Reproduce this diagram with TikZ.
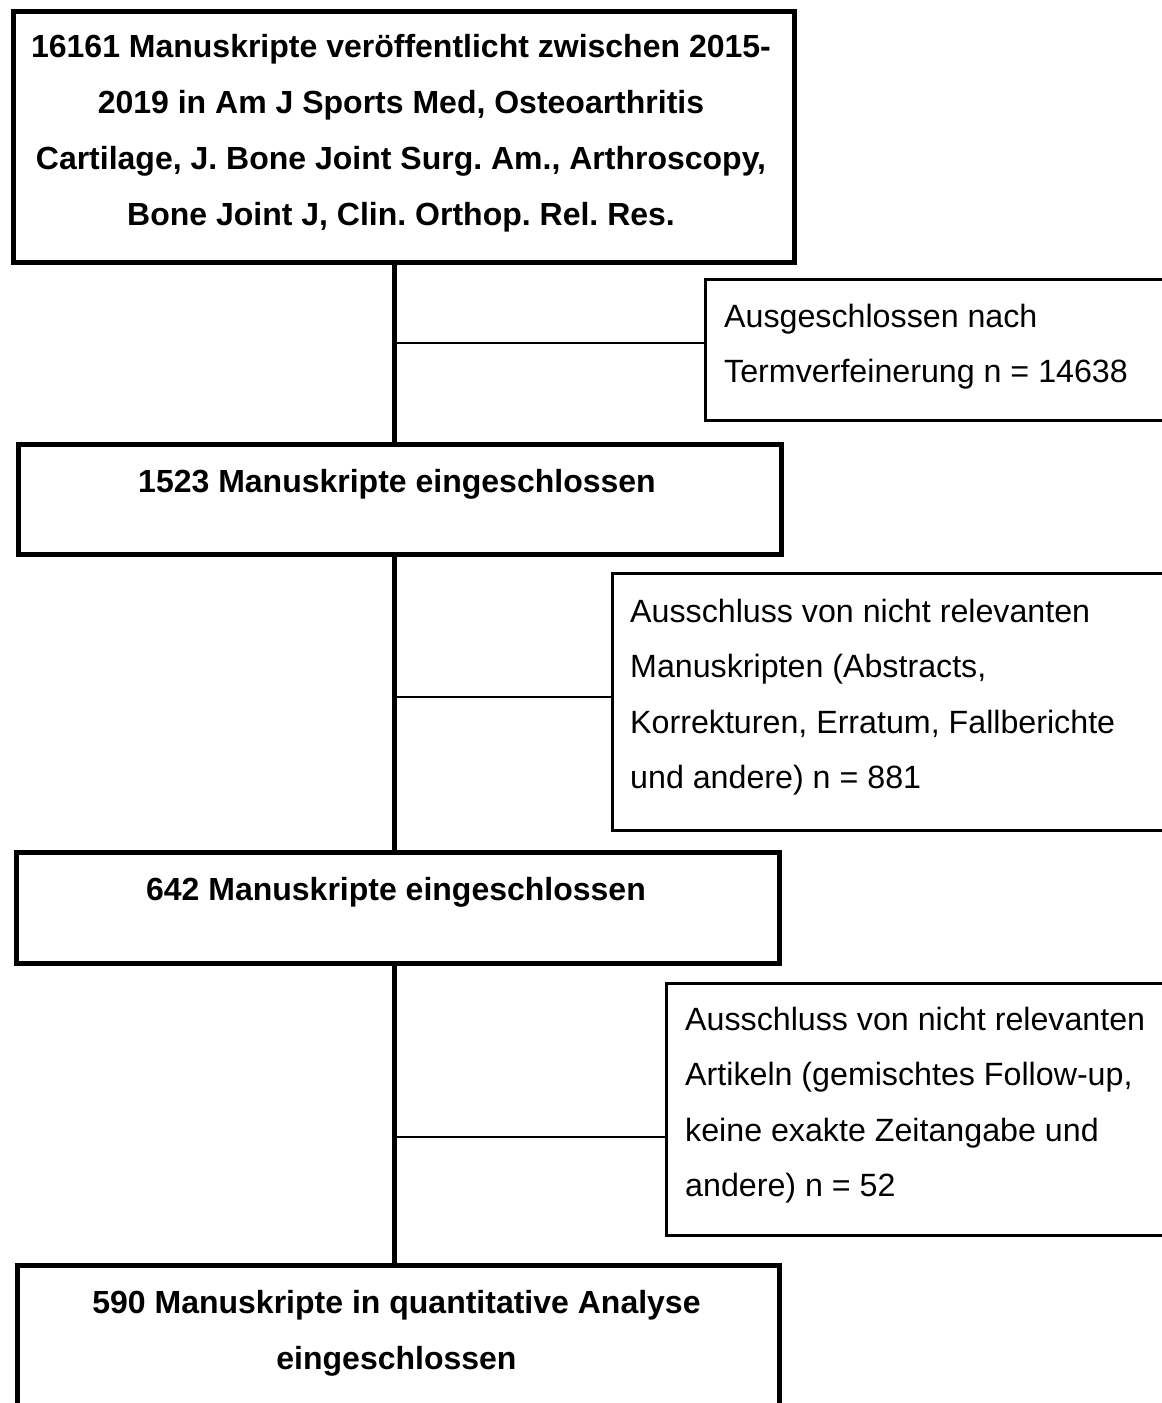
\documentclass[tikz,border=0pt]{standalone}
\usepackage{fontspec}
\setmainfont{Liberation Sans}
\frenchspacing
\begin{document}
\begin{tikzpicture}[x=1pt,y=-1pt,
  mainbox/.style={draw, line width=5pt, inner sep=0pt, anchor=north west},
  sidebox/.style={draw, line width=2.5pt, inner sep=0pt, anchor=north west},
  maintext/.style={anchor=base, inner sep=0pt, font=\fontsize{32}{56}\selectfont\bfseries\frenchspacing},
  sidetext/.style={anchor=base west, inner sep=0pt, font=\fontsize{32.2}{55.5}\selectfont\frenchspacing},
  spine/.style={line width=5pt},
  branch/.style={line width=2.5pt}]
\clip (0,0) rectangle (1162,1403);
% main boxes
\node[mainbox, minimum width=781.5pt, minimum height=251pt] (b1) at (10.5,9) {};
\node[mainbox, minimum width=763pt, minimum height=110.5pt] (b2) at (15.5,441.5) {};
\node[mainbox, minimum width=763.5pt, minimum height=110.5pt] (b3) at (13.5,850) {};
\node[mainbox, minimum width=762.5pt, minimum height=200pt] (b4) at (14.5,1262.5) {};
% side boxes
\node[sidebox, minimum width=471pt, minimum height=141pt] (s1) at (704,278) {};
\node[sidebox, minimum width=564pt, minimum height=257pt] (s2) at (611,572) {};
\node[sidebox, minimum width=510pt, minimum height=252pt] (s3) at (665,982) {};
% texts
\node[maintext] (t1) at (401,57) {\begin{tabular}[t]{@{}c@{}}16161 Manuskripte veröffentlicht zwischen 2015-\\2019 in Am J Sports Med, Osteoarthritis\\Cartilage, J. Bone Joint Surg. Am., Arthroscopy,\\Bone Joint J, Clin. Orthop. Rel. Res.\end{tabular}};
\node[maintext] (t2) at (397,492) {1523 Manuskripte eingeschlossen};
\node[maintext] (t3) at (396,900) {642 Manuskripte eingeschlossen};
\node[maintext] (t4) at (396.5,1313) {\begin{tabular}[t]{@{}c@{}}590 Manuskripte in quantitative Analyse\\eingeschlossen\end{tabular}};
\node[sidetext] (u1) at (724,327) {\begin{tabular}[t]{@{}l@{}}Ausgeschlossen nach\\Termverfeinerung n = 14638\end{tabular}};
\node[sidetext] (u2) at (630,622) {\begin{tabular}[t]{@{}l@{}}Ausschluss von nicht relevanten\\Manuskripten (Abstracts,\\Korrekturen, Erratum, Fallberichte\\und andere) n = 881\end{tabular}};
\node[sidetext] (u3) at (685,1030) {\begin{tabular}[t]{@{}l@{}}Ausschluss von nicht relevanten\\Artikeln (gemischtes Follow-up,\\keine exakte Zeitangabe und\\andere) n = 52\end{tabular}};
% spine
\coordinate (sp) at (394.5,0);
\draw[spine] (b1.south -| sp) -- (b2.north -| sp);
\draw[spine] (b2.south -| sp) -- (b3.north -| sp);
\draw[spine] (b3.south -| sp) -- (b4.north -| sp);
% branches
\coordinate (j1) at (394.5,343);
\coordinate (j2) at (394.5,697);
\coordinate (j3) at (394.5,1137);
\draw[branch] (j1) -- (j1 -| s1.west);
\draw[branch] (j2) -- (j2 -| s2.west);
\draw[branch] (j3) -- (j3 -| s3.west);
\end{tikzpicture}
\end{document}
